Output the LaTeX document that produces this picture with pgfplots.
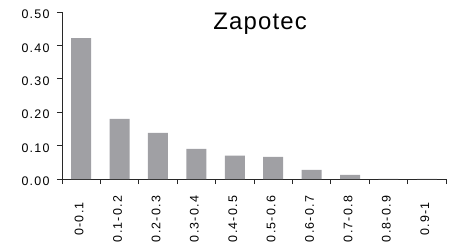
\documentclass[border=0pt]{standalone}
\usepackage{fontspec}
\setmainfont{Liberation Sans}
\newfontfamily\tickfont{Liberation Sans}[LetterSpace=10]
\newfontfamily\titlefont{Liberation Sans}[LetterSpace=5]
\usepackage{pgfplots}
\pgfplotsset{compat=1.18}
\definecolor{barc}{RGB}{160,160,164}
\definecolor{axc}{RGB}{40,40,40}
\begin{document}
\begin{tikzpicture}
\useasboundingbox (-62bp,-64bp) rectangle (397bp,179bp);
\begin{axis}[
  scale only axis, width=384bp, height=167bp,
  at={(0,0)}, anchor=south west,
  xmin=-0.5, xmax=9.5, ymin=0, ymax=0.5,
  axis lines*=left,
  axis line style={draw=axc, line width=0.8bp},
  every tick/.style={draw=axc, line width=0.8bp},
  tick align=outside, major tick length=5bp,
  /pgf/number format/assume math mode=true,
  ticklabel style={font=\tickfont\fontsize{12.5}{14}\selectfont},
  ytick={0,0.1,0.2,0.3,0.4,0.5},
  yticklabels={0.00,0.10,0.20,0.30,0.40,0.50},
  yticklabel style={xshift=-4bp, yshift=-2.5bp},
  xtick={-0.5,0.5,1.5,2.5,3.5,4.5,5.5,6.5,7.5,8.5,9.5},
  xticklabels={,,,,,,,,,,,},
  extra x ticks={0,1,2,3,4,5,6,7,8,9},
  extra x tick labels={0-0.1,0.1-0.2,0.2-0.3,0.3-0.4,0.4-0.5,0.5-0.6,0.6-0.7,0.7-0.8,0.8-0.9,0.9-1},
  extra x tick style={tick style={draw=none}, xticklabel style={anchor=center, yshift=-35bp, xshift=-2bp, rotate=90}},
  clip=false,
]
\addplot[ybar, bar width=20bp, fill=barc, draw=none] coordinates {
(0,0.422) (1,0.180) (2,0.138) (3,0.090) (4,0.070) (5,0.066) (6,0.027) (7,0.012) (8,0.0005) (9,0.0003)
};
\node[anchor=base, font=\titlefont\fontsize{24}{28}\selectfont, inner sep=0pt] at (rel axis cs:0.516,0.896) {Zapotec};
\end{axis}
\end{tikzpicture}
\end{document}
